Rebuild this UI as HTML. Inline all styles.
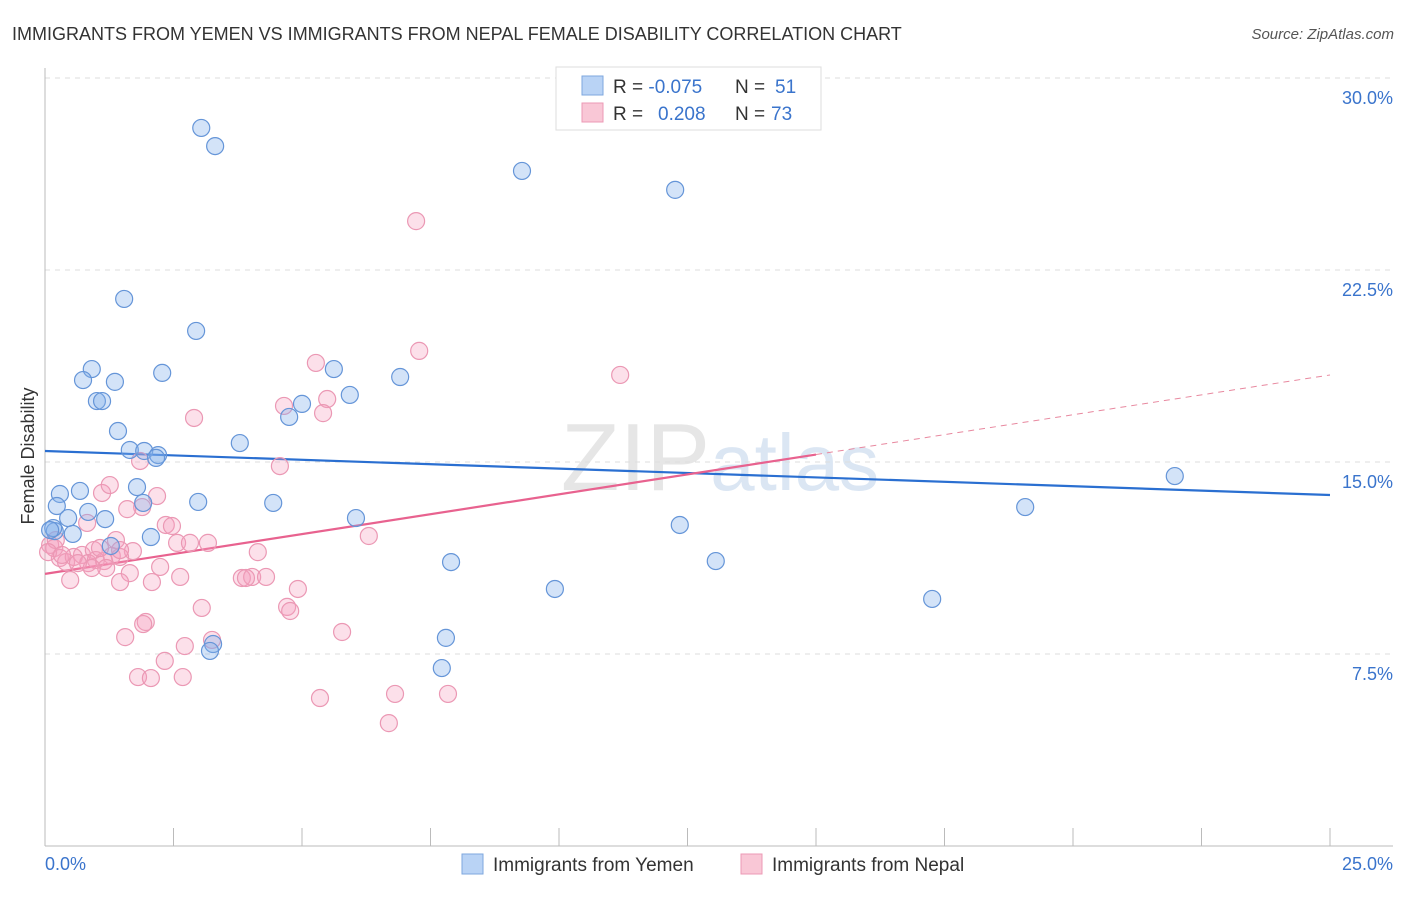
<!DOCTYPE html>
<html><head><meta charset="utf-8"><style>
body{margin:0;background:#fff;font-family:"Liberation Sans",sans-serif;}
svg text{font-family:"Liberation Sans",sans-serif;}
</style></head><body>
<svg id="chart" width="1406" height="892">
<text x="12" y="40" font-size="18" fill="#333">IMMIGRANTS FROM YEMEN VS IMMIGRANTS FROM NEPAL FEMALE DISABILITY CORRELATION CHART</text>
<text x="1394" y="39" font-size="15" fill="#555" font-style="italic" text-anchor="end">Source: ZipAtlas.com</text>
<text x="720" y="490" font-size="96" fill="#e6e6e6" text-anchor="middle" font-family="Liberation Serif">ZIP<tspan fill="#dbe6f3" font-family="Liberation Sans" font-size="80">atlas</tspan></text>
<text transform="translate(34,456) rotate(-90)" font-size="18" fill="#333" text-anchor="middle">Female Disability</text>
<g id="grid"></g><g id="axes"></g><g id="trend"></g><g id="pts"></g>
<g>
<rect x="556" y="67" width="265" height="63" fill="#fff" stroke="#ddd"/>
<rect x="582" y="76" width="21" height="19" fill="#b9d3f5" stroke="#7ea7de"/>
<rect x="582" y="103" width="21" height="19" fill="#f9c7d6" stroke="#ec9ab5"/>
<text x="613" y="93" font-size="19" fill="#333">R = <tspan fill="#3a74cc">-0.075</tspan><tspan x="735">N = </tspan><tspan fill="#3a74cc" x="775">51</tspan></text>
<text x="613" y="120" font-size="19" fill="#333">R = <tspan fill="#3a74cc" x="658">0.208</tspan><tspan x="735">N = </tspan><tspan fill="#3a74cc" x="771">73</tspan></text>
</g>
<g>
<rect x="462" y="854" width="21" height="20" fill="#b9d3f5" stroke="#7ea7de"/>
<text x="493" y="871" font-size="19" fill="#333">Immigrants from Yemen</text>
<rect x="741" y="854" width="21" height="20" fill="#f9c7d6" stroke="#ec9ab5"/>
<text x="772" y="871" font-size="19" fill="#333">Immigrants from Nepal</text>
</g>
</svg>
<script>
const yTicks=[7.5,15,22.5,30];
const yTickLabels=["7.5%","15.0%","22.5%","30.0%"];
const xEndLabels=["0.0%","25.0%"];
const yemenX=[3.04,3.31,9.28,12.26,1.54,2.94,0.91,0.74,1.36,2.28,1.01,1.11,5.62,5.93,6.91,4.75,5.00,1.42,3.79,1.65,1.93,2.20,2.16,21.98,0.29,0.68,1.79,1.91,2.98,4.44,19.07,0.23,0.84,0.45,1.17,6.05,12.35,2.06,0.54,0.19,0.16,1.28,7.90,13.05,9.92,17.26,7.80,3.27,3.21,7.72,0.10];
const yemenY=[28.05,27.34,26.37,25.63,21.37,20.12,18.63,18.20,18.13,18.48,17.38,17.38,18.63,17.62,18.32,16.76,17.27,16.21,15.74,15.47,15.43,15.27,15.16,14.45,13.75,13.87,14.02,13.40,13.44,13.40,13.24,13.28,13.05,12.81,12.77,12.81,12.54,12.07,12.19,12.30,12.42,11.72,11.09,11.13,10.04,9.65,8.13,7.89,7.62,6.95,12.34];
const nepalX=[7.22,7.28,11.19,5.27,5.49,4.65,5.41,2.90,1.85,4.57,1.11,1.26,2.18,1.89,1.60,2.35,2.47,0.82,6.30,2.57,3.17,2.82,1.71,4.14,0.72,0.95,1.30,0.10,0.18,0.29,0.41,0.56,0.84,0.99,1.15,1.46,2.24,1.65,1.19,0.91,2.63,3.83,4.03,4.30,2.08,1.46,0.49,4.92,4.71,4.77,3.05,1.56,1.96,1.91,2.72,3.25,2.33,5.78,1.81,2.06,2.68,5.35,6.81,7.84,6.69,0.21,0.06,0.33,0.64,1.07,1.38,3.91,1.46];
const nepalY=[24.41,19.34,18.40,18.87,17.46,17.19,16.91,16.72,15.04,14.84,13.79,14.10,13.67,13.24,13.16,12.54,12.50,12.62,12.11,11.84,11.84,11.84,11.52,11.48,11.37,11.56,11.33,11.76,11.64,11.25,11.09,11.29,11.05,11.17,11.13,11.29,10.90,10.66,10.86,10.86,10.51,10.47,10.51,10.51,10.31,10.31,10.39,10.04,9.34,9.18,9.30,8.16,8.75,8.67,7.81,8.05,7.23,8.36,6.60,6.56,6.60,5.78,5.94,5.94,4.80,11.95,11.48,11.37,11.05,11.64,11.95,10.47,11.56];
const yemenTrend=[15.43,13.71];
const nepalTrend=[10.63,18.40];
const nepalSolidEnd=15.0;

const NS="http://www.w3.org/2000/svg";
const X=v=>45+v/25*1285;
const Y=v=>846-v/7.5*192;
function mk(tag,attrs,parent){const e=document.createElementNS(NS,tag);for(const k in attrs)e.setAttribute(k,attrs[k]);document.getElementById(parent).appendChild(e);return e;}
yTicks.forEach((t,i)=>{
  const l=mk('line',{x1:45,x2:1393,y1:Y(t),y2:Y(t),stroke:'#ddd','stroke-dasharray':'5,5'},'grid');
  
  
  const tx=mk('text',{x:1393,y:Y(t)+26,'font-size':18,fill:'#3a74cc','text-anchor':'end'},'grid');
  tx.textContent=yTickLabels[i];
  
  
});
let a=mk('line',{x1:45,x2:45,y1:68,y2:846,stroke:'#bbb'},'axes');


a=mk('line',{x1:45,x2:1393,y1:846,y2:846,stroke:'#bbb'},'axes');


for(let i=0;i<=10;i++){
  const t=mk('line',{x1:X(i*2.5),x2:X(i*2.5),y1:828,y2:846,stroke:'#bbb'},'axes');
  
  
}
let xl=mk('text',{x:45,y:870,'font-size':18,fill:'#3a74cc'},'axes');xl.textContent=xEndLabels[0];


xl=mk('text',{x:1393,y:870,'font-size':18,fill:'#3a74cc','text-anchor':'end'},'axes');xl.textContent=xEndLabels[1];



function pts(xs,ys,fill,stroke,name){
  xs.forEach((x,i)=>{
    const c=mk('circle',{cx:X(x),cy:Y(ys[i]),r:8.5,fill:fill,stroke:stroke,'stroke-width':1.2},'pts');
    
    
  });
}
pts(nepalX,nepalY,'rgba(245,160,190,0.32)','#eb98b4','point-nepal');
pts(yemenX,yemenY,'rgba(130,175,235,0.35)','#6595d8','point-yemen');

let tl=mk('line',{x1:X(0),y1:Y(yemenTrend[0]),x2:X(25),y2:Y(yemenTrend[1]),stroke:'#2a6fd1','stroke-width':2.2},'trend');


const ny=x=>nepalTrend[0]+(nepalTrend[1]-nepalTrend[0])*x/25;
tl=mk('line',{x1:X(0),y1:Y(ny(0)),x2:X(nepalSolidEnd),y2:Y(ny(nepalSolidEnd)),stroke:'#e8628f','stroke-width':2.2},'trend');


tl=mk('line',{x1:X(nepalSolidEnd),y1:Y(ny(nepalSolidEnd)),x2:X(25),y2:Y(ny(25)),stroke:'#e8889f','stroke-width':1,'stroke-dasharray':'6,5'},'trend');


</script>
</body></html>
